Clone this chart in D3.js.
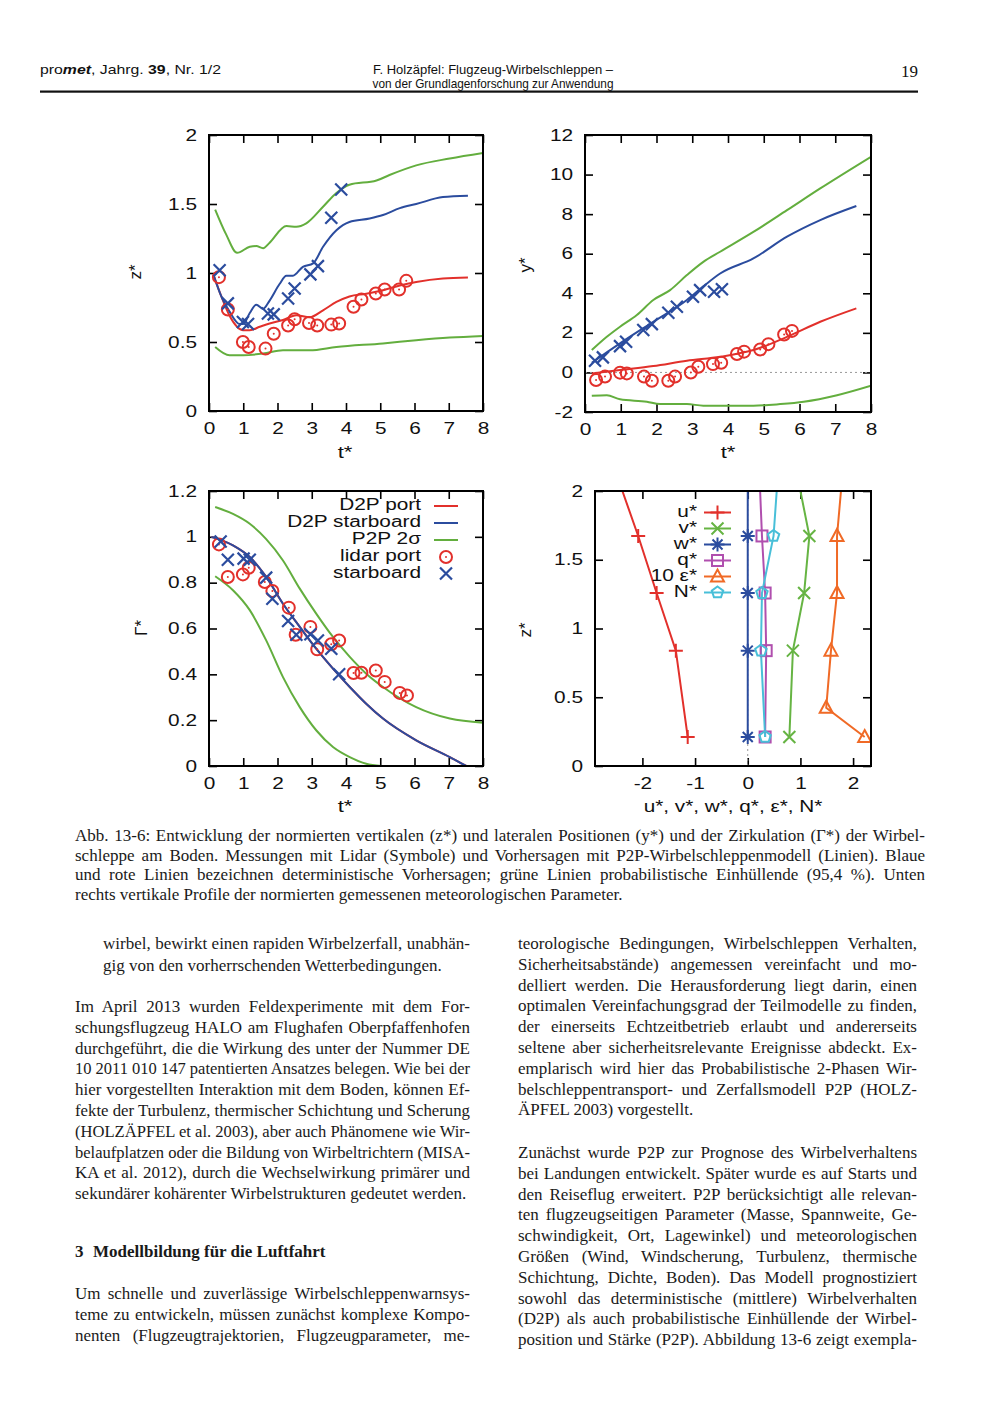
<!DOCTYPE html>
<html><head><meta charset="utf-8">
<script src="https://cdn.jsdelivr.net/npm/d3@7"></script>
<style>body{margin:0;background:#fff}svg{display:block}</style>
</head><body>
<svg id="page" width="1000" height="1416"></svg>
<script>
// ---------- DATA ----------
// Panel 1: z* vs t*
const zGreenUpT = [0.18,0.5,0.82,1.19,1.38,1.58,1.77,2.26,2.55,2.84,3.33,3.72,4.1,4.89,5.27,6.05,7.03,8.0];
const zGreenUpV = [1.46,1.28,1.146,1.19,1.195,1.18,1.22,1.34,1.335,1.36,1.48,1.58,1.64,1.67,1.71,1.78,1.83,1.87];
const zBlueT = [0.14,0.36,0.6,0.9,1.0,1.19,1.38,1.58,1.77,2.06,2.26,2.45,2.74,3.04,3.33,3.72,4.1,4.69,5.08,5.57,6.05,6.83,7.56];
const zBlueV = [0.98,0.83,0.72,0.63,0.63,0.71,0.77,0.74,0.80,0.92,0.98,0.98,1.045,1.07,1.19,1.31,1.37,1.395,1.42,1.47,1.50,1.55,1.56];
const zRedT = [0.14,0.36,0.6,1.0,1.19,1.48,1.77,2.16,2.55,2.94,3.33,3.72,4.1,4.59,5.08,5.57,6.05,6.83,7.56];
const zRedV = [0.98,0.83,0.69,0.585,0.585,0.61,0.634,0.66,0.694,0.68,0.73,0.79,0.83,0.85,0.875,0.91,0.935,0.96,0.967];
const zGreenLowT = [0.18,0.6,1.0,1.58,2.16,2.94,3.72,5.08,6.05,7.03,8.0];
const zGreenLowV = [0.464,0.404,0.404,0.416,0.44,0.44,0.464,0.49,0.513,0.532,0.544];
const zStarT = [0.31,0.55,0.99,1.14,1.72,1.89,2.31,2.5,2.96,3.18,3.57,3.86];
const zStarV = [1.02,0.78,0.645,0.63,0.706,0.70,0.815,0.888,0.99,1.05,1.40,1.605];
const zPortT = [0.29,0.55,0.99,1.16,1.65,1.89,2.31,2.5,2.92,3.16,3.57,3.8,4.22,4.45,4.87,5.13,5.55,5.76];
const zPortV = [0.97,0.735,0.50,0.464,0.452,0.56,0.62,0.665,0.638,0.62,0.626,0.634,0.755,0.808,0.851,0.88,0.88,0.943];

// Panel 2: y* vs t*
const yGreenUpT = [0.19,0.61,0.98,1.45,1.91,2.38,2.85,3.31,3.78,4.71,5.65,6.58,8.0];
const yGreenUpV = [1.13,1.80,2.31,2.9,3.66,4.16,4.92,5.59,6.1,7.1,8.2,9.3,10.9];
const yBlueT = [0.19,0.98,1.91,2.85,3.31,3.78,4.71,5.65,6.58,7.59];
const yBlueV = [0.49,1.47,2.56,3.66,4.35,5.0,5.76,6.86,7.70,8.41];
const yRedT = [0.19,0.98,1.91,2.85,3.78,4.71,5.65,6.58,7.59];
const yRedV = [-0.05,0.12,0.32,0.59,0.79,1.13,1.8,2.56,3.24];
const yGreenLowT = [0.19,0.61,0.98,1.73,2.1,2.85,3.31,4.71,5.46,6.12,7.05,8.0];
const yGreenLowV = [-1.18,-1.15,-1.36,-1.48,-1.6,-1.6,-1.68,-1.68,-1.6,-1.48,-1.15,-0.67];
const yStarT = [0.28,0.5,0.98,1.15,1.63,1.87,2.33,2.57,3.02,3.22,3.61,3.83];
const yStarV = [0.59,0.76,1.33,1.55,2.14,2.44,3.02,3.32,3.82,4.16,4.08,4.2];
const yPortT = [0.31,0.56,0.98,1.17,1.65,1.87,2.33,2.52,2.96,3.17,3.58,3.81,4.25,4.45,4.9,5.13,5.57,5.79];
const yPortV = [-0.38,-0.21,-0.01,-0.05,-0.21,-0.42,-0.42,-0.21,0.0,0.29,0.42,0.49,0.93,1.05,1.16,1.43,1.92,2.1];

// Panel 3: Gamma* vs t*
const gGreenUpT = [0.18,0.7,1.19,1.67,2.16,2.65,3.13,3.62,4.11,4.59,5.08,6.05,7.03,8.0];
const gGreenUpV = [1.13,1.10,1.057,0.99,0.897,0.774,0.665,0.563,0.476,0.403,0.345,0.257,0.207,0.189];
const gRedT = [0.07,0.7,1.19,1.67,2.16,2.65,3.13,3.62,4.11,4.59,5.08,6.05,7.03,7.51];
const gRedV = [1.0,0.963,0.912,0.825,0.708,0.607,0.512,0.425,0.345,0.272,0.207,0.112,0.039,0];
const gBlueT = [0.07,0.7,1.19,1.67,2.16,2.65,3.13,3.62,4.11,4.59,5.08,6.05,7.03,7.51];
const gBlueV = [1.0,0.963,0.912,0.825,0.708,0.607,0.512,0.425,0.345,0.272,0.207,0.112,0.039,0];
const gGreenLowT = [0.18,0.7,1.19,1.67,2.16,2.65,3.13,3.62,4.11,4.59,5.03];
const gGreenLowV = [0.828,0.767,0.68,0.548,0.388,0.257,0.156,0.083,0.039,0.01,0];
const gStarT = [0.34,0.55,1.01,1.19,1.67,1.85,2.31,2.55,2.96,3.18,3.57,3.8];
const gStarV = [0.98,0.90,0.905,0.90,0.822,0.73,0.633,0.573,0.575,0.548,0.512,0.40];
const gPortT = [0.29,0.55,0.99,1.16,1.63,1.85,2.33,2.53,2.96,3.16,3.57,3.8,4.22,4.45,4.87,5.13,5.57,5.78];
const gPortV = [0.967,0.825,0.836,0.865,0.803,0.764,0.691,0.573,0.607,0.509,0.531,0.548,0.406,0.407,0.417,0.367,0.319,0.308];
const legend3Labels = ["D2P port","D2P starboard","P2P 2σ","lidar port","starboard"];

// Panel 4: vertical profiles (z* levels)
const uZ = [0.211,0.839,1.258,1.673,2.0];
const uV = [-1.14,-1.365,-1.73,-2.08,-2.38];
const vZ = [0.211,0.839,1.258,1.673,2.0];
const vV = [0.79,0.857,1.07,1.17,1.0];
const wZ = [0.211,0.839,1.258,1.673,2.0];
const wV = [0,0,0,0,0];
const qZ = [0.211,0.839,1.258,1.673,2.0];
const qV = [0.33,0.35,0.33,0.27,0.235];
const eZ = [0.211,0.424,0.839,1.258,1.673,2.0];
const eV = [2.22,1.49,1.58,1.695,1.695,1.77];
const nZ = [0.211,0.839,1.258,1.673,2.0];
const nV = [0.33,0.25,0.27,0.49,0.55];
const legend4Labels = ["u*","v*","w*","q*","10 ε*","N*"];

// Tick labels
const tTicks = [0,1,2,3,4,5,6,7,8];
const zTicks = [0,0.5,1,1.5,2];
const yTicks = [-2,0,2,4,6,8,10,12];
const gTicks = [0,0.2,0.4,0.6,0.8,1,1.2];
const pTicks = [-2,-1,0,1,2];

// Text
const headerLeft = [["pro",""],["met","bi"],[", Jahrg. ",""],["39","b"],[", Nr. 1/2",""]];
const headerCenter = ["F. Holzäpfel: Flugzeug-Wirbelschleppen –","von der Grundlagenforschung zur Anwendung"];
const pageNumber = "19";
const captionLines = [
 "Abb. 13-6: Entwicklung der normierten vertikalen (z*) und lateralen Positionen (y*) und der Zirkulation (Γ*) der Wirbel-",
 "schleppe am Boden. Messungen mit Lidar (Symbole) und Vorhersagen mit P2P-Wirbelschleppenmodell (Linien). Blaue",
 "und rote Linien bezeichnen deterministische Vorhersagen; grüne Linien probabilistische Einhüllende (95,4 %). Unten",
 "rechts vertikale Profile der normierten gemessenen meteorologischen Parameter."];
const leftP1 = ["wirbel, bewirkt einen rapiden Wirbelzerfall, unabhän-","gig von den vorherrschenden Wetterbedingungen."];
const leftP2 = [
 "Im April 2013 wurden Feldexperimente mit dem For-",
 "schungsflugzeug HALO am Flughafen Oberpfaffenhofen",
 "durchgeführt, die die Wirkung des unter der Nummer DE",
 "10 2011 010 147 patentierten Ansatzes belegen. Wie bei der",
 "hier vorgestellten Interaktion mit dem Boden, können Ef-",
 "fekte der Turbulenz, thermischer Schichtung und Scherung",
 "(HOLZÄPFEL et al. 2003), aber auch Phänomene wie Wir-",
 "belaufplatzen oder die Bildung von Wirbeltrichtern (MISA-",
 "KA et al. 2012), durch die Wechselwirkung primärer und",
 "sekundärer kohärenter Wirbelstrukturen gedeutet werden."];
const headingNum = "3";
const headingText = "Modellbildung für die Luftfahrt";
const leftP3 = [
 "Um schnelle und zuverlässige Wirbelschleppenwarnsys-",
 "teme zu entwickeln, müssen zunächst komplexe Kompo-",
 "nenten (Flugzeugtrajektorien, Flugzeugparameter, me-"];
const rightP1 = [
 "teorologische Bedingungen, Wirbelschleppen Verhalten,",
 "Sicherheitsabstände) angemessen vereinfacht und mo-",
 "delliert werden. Die Herausforderung liegt darin, einen",
 "optimalen Vereinfachungsgrad der Teilmodelle zu finden,",
 "der einerseits Echtzeitbetrieb erlaubt und andererseits",
 "seltene aber sicherheitsrelevante Ereignisse abdeckt. Ex-",
 "emplarisch wird hier das Probabilistische 2-Phasen Wir-",
 "belschleppentransport- und Zerfallsmodell P2P (HOLZ-",
 "ÄPFEL 2003) vorgestellt."];
const rightP2 = [
 "Zunächst wurde P2P zur Prognose des Wirbelverhaltens",
 "bei Landungen entwickelt. Später wurde es auf Starts und",
 "den Reiseflug erweitert. P2P berücksichtigt alle relevan-",
 "ten flugzeugseitigen Parameter (Masse, Spannweite, Ge-",
 "schwindigkeit, Ort, Lagewinkel) und meteorologischen",
 "Größen (Wind, Windscherung, Turbulenz, thermische",
 "Schichtung, Dichte, Boden). Das Modell prognostiziert",
 "sowohl das deterministische (mittlere) Wirbelverhalten",
 "(D2P) als auch probabilistische Einhüllende der Wirbel-",
 "position und Stärke (P2P). Abbildung 13-6 zeigt exempla-"];

// ---------- DRAWING ----------
const svg = d3.select("#page");
svg.append("rect").attr("width",1000).attr("height",1416).attr("fill","#fff");
const SANS = "'Liberation Sans', Arial, Helvetica, sans-serif";
const SERIF = "'Liberation Serif', 'Times New Roman', serif";
const COL = {red:"#e2302b", blue:"#2b4c9e", green:"#63ae3e", purple:"#b04fae", orange:"#f06a26", cyan:"#48bfd8", vgreen:"#66b443"};
const STRETCH = 1.3;
const defs = svg.append("defs");

function zip(a,b){ return a.map((v,i)=>[v,b[i]]); }
function stretch(sel,f){
  sel.each(function(){
    const L = this.getComputedTextLength();
    if(L>0) d3.select(this).attr("textLength",(L*f).toFixed(2)).attr("lengthAdjust","spacingAndGlyphs");
  });
}
function fitWidth(sel,w){ sel.attr("textLength",w).attr("lengthAdjust","spacingAndGlyphs"); }

function makePanel(p){
  const x = d3.scaleLinear().domain(p.xd).range([p.l,p.r]);
  const y = d3.scaleLinear().domain(p.yd).range([p.b,p.t]);
  const g = svg.append("g");
  defs.append("clipPath").attr("id","clip"+p.id).append("rect")
    .attr("x",p.l).attr("y",p.t).attr("width",p.r-p.l).attr("height",p.b-p.t);
  const style = (a)=>{
    a.select(".domain").remove();
    a.selectAll("line").attr("stroke","#000").attr("stroke-width",1.6);
    a.selectAll("text").attr("font-family",SANS).attr("font-size",16).attr("fill","#111");
  };
  g.append("g").attr("transform",`translate(0,${p.b})`)
    .call(d3.axisBottom(x).tickValues(p.xt).tickFormat(d=>String(d)).tickSizeInner(-8).tickSizeOuter(0).tickPadding(12)).call(style);
  g.append("g").attr("transform",`translate(0,${p.t})`)
    .call(d3.axisTop(x).tickValues(p.xt).tickFormat("").tickSizeInner(-8).tickSizeOuter(0)).call(style);
  g.append("g").attr("transform",`translate(${p.l},0)`)
    .call(d3.axisLeft(y).tickValues(p.yt).tickFormat(d=>String(d)).tickSizeInner(-8).tickSizeOuter(0).tickPadding(12)).call(style);
  g.append("g").attr("transform",`translate(${p.r},0)`)
    .call(d3.axisRight(y).tickValues(p.yt).tickFormat("").tickSizeInner(-8).tickSizeOuter(0)).call(style);
  stretch(g.selectAll("text"),STRETCH);
  const plot = svg.append("g").attr("clip-path",`url(#clip${p.id})`);
  const xl = svg.append("text").attr("x",p.xlab[0]).attr("y",p.xlab[1]).attr("text-anchor","middle")
    .attr("font-family",SANS).attr("font-size",17).attr("fill","#111").text(p.xlabel);
  stretch(xl,p.xstretch||STRETCH);
  svg.append("text").attr("transform",`translate(${p.ylab[0]},${p.ylab[1]}) rotate(-90)`).attr("text-anchor","middle")
    .attr("dominant-baseline","middle").attr("font-family",SANS).attr("font-size",17).attr("fill","#111").text(p.ylabel);
  const frame = ()=> svg.append("rect").attr("x",p.l).attr("y",p.t).attr("width",p.r-p.l).attr("height",p.b-p.t)
    .attr("fill","none").attr("stroke","#000").attr("stroke-width",2);
  return {x,y,plot,frame};
}

function curve(P, tx, vy, color, w){
  const line = d3.line().x(d=>P.x(d[0])).y(d=>P.y(d[1])).curve(d3.curveMonotoneX);
  P.plot.append("path").attr("d",line(zip(tx,vy))).attr("fill","none").attr("stroke",color).attr("stroke-width",w||2);
}
const XS = 6;
function crosses(P, tx, vy, color){
  P.plot.selectAll(null).data(zip(tx,vy)).enter().append("path")
    .attr("transform",d=>`translate(${P.x(d[0])},${P.y(d[1])})`)
    .attr("d",`M${-XS},${-XS}L${XS},${XS}M${-XS},${XS}L${XS},${-XS}`).attr("stroke",color).attr("stroke-width",2.2).attr("fill","none");
}
function circleMark(g,color){
  g.append("circle").attr("r",6).attr("fill","none").attr("stroke",color).attr("stroke-width",2);
  g.append("circle").attr("r",1).attr("fill",color);
}
function circles(P, tx, vy, color){
  P.plot.selectAll(null).data(zip(tx,vy)).enter().append("g")
    .attr("transform",d=>`translate(${P.x(d[0])},${P.y(d[1])})`).each(function(){circleMark(d3.select(this),color);});
}
function legendText(x,y,s){
  const t = svg.append("text").attr("x",x).attr("y",y).attr("dominant-baseline","middle").attr("text-anchor","end")
    .attr("font-family",SANS).attr("font-size",16).attr("fill","#111").text(s);
  stretch(t,STRETCH);
}

// ---- Panel 1 ----
const P1 = makePanel({id:1,l:209,r:483,t:135,b:411,xd:[0,8],yd:[0,2],xt:tTicks,yt:zTicks,
  xlab:[345,458],ylab:[137,272],xlabel:"t*",ylabel:"z*"});
curve(P1,zGreenUpT,zGreenUpV,COL.green);
curve(P1,zGreenLowT,zGreenLowV,COL.green);
curve(P1,zRedT,zRedV,COL.red);
curve(P1,zBlueT,zBlueV,COL.blue);
circles(P1,zPortT,zPortV,COL.red);
crosses(P1,zStarT,zStarV,COL.blue);
P1.frame();

// ---- Panel 2 ----
const P2 = makePanel({id:2,l:585,r:871,t:135,b:412,xd:[0,8],yd:[-2,12],xt:tTicks,yt:yTicks,
  xlab:[728,458],ylab:[527,265],xlabel:"t*",ylabel:"y*"});
P2.plot.append("line").attr("x1",P2.x(0)).attr("x2",P2.x(8)).attr("y1",P2.y(0)).attr("y2",P2.y(0))
  .attr("stroke","#999").attr("stroke-width",1).attr("stroke-dasharray","2,3");
curve(P2,yGreenUpT,yGreenUpV,COL.green);
curve(P2,yGreenLowT,yGreenLowV,COL.green);
curve(P2,yRedT,yRedV,COL.red);
curve(P2,yBlueT,yBlueV,COL.blue);
circles(P2,yPortT,yPortV,COL.red);
crosses(P2,yStarT,yStarV,COL.blue);
P2.frame();

// ---- Panel 3 ----
const P3 = makePanel({id:3,l:209,r:483,t:491,b:766,xd:[0,8],yd:[0,1.2],xt:tTicks,yt:gTicks,
  xlab:[345,812],ylab:[143,628],xlabel:"t*",ylabel:"Γ*"});
curve(P3,gGreenUpT,gGreenUpV,COL.green);
curve(P3,gGreenLowT,gGreenLowV,COL.green);
curve(P3,gRedT,gRedV,COL.red);
curve(P3,gBlueT,gBlueV,COL.blue);
circles(P3,gPortT,gPortV,COL.red);
crosses(P3,gStarT,gStarV,COL.blue);
{
  const rows = [506,523,540,557,573.5];
  const cols = [COL.red,COL.blue,COL.green,COL.red,COL.blue];
  rows.forEach((ry,i)=>{
    legendText(421,ry,legend3Labels[i]);
    if(i<3){
      svg.append("line").attr("x1",434).attr("x2",458).attr("y1",ry).attr("y2",ry).attr("stroke",cols[i]).attr("stroke-width",2);
    } else if(i===3){
      circleMark(svg.append("g").attr("transform",`translate(446,${ry})`),cols[i]);
    } else {
      svg.append("path").attr("transform",`translate(446,${ry})`).attr("d",`M${-XS},${-XS}L${XS},${XS}M${-XS},${XS}L${XS},${-XS}`)
        .attr("stroke",cols[i]).attr("stroke-width",2.2);
    }
  });
}
P3.frame();

// ---- Panel 4 ----
const P4 = makePanel({id:4,l:595,r:871,t:491,b:766,xd:[-2.9,2.34],yd:[0,2],xt:pTicks,yt:zTicks,
  xlab:[733,812],ylab:[527,630],xlabel:"u*, v*, w*, q*, ε*, N*",ylabel:"z*",xstretch:1.22});
P4.plot.append("line").attr("x1",P4.x(0)).attr("x2",P4.x(0)).attr("y1",P4.y(0)).attr("y2",P4.y(2))
  .attr("stroke","#999").attr("stroke-width",1).attr("stroke-dasharray","2,3");
const sym = {
  plus: g=>g.append("path").attr("d","M-7,0H7M0,-7V7"),
  x: g=>g.append("path").attr("d","M-6,-6L6,6M-6,6L6,-6"),
  star: g=>g.append("path").attr("d","M-7,0H7M0,-7V7M-5,-5L5,5M-5,5L5,-5"),
  square: g=>g.append("rect").attr("x",-5.5).attr("y",-5.5).attr("width",11).attr("height",11),
  tri: g=>g.append("path").attr("d","M0,-7L6.5,5L-6.5,5Z"),
  pent: g=>g.append("path").attr("d", d3.range(5).map(i=>{const a=-Math.PI/2+i*2*Math.PI/5;return (i?"L":"M")+(6*Math.cos(a)).toFixed(2)+","+(6*Math.sin(a)).toFixed(2);}).join("")+"Z")
};
const series4 = [
  {z:uZ,v:uV,c:COL.red,s:"plus"},
  {z:vZ,v:vV,c:COL.vgreen,s:"x"},
  {z:wZ,v:wV,c:COL.blue,s:"star"},
  {z:qZ,v:qV,c:COL.purple,s:"square"},
  {z:eZ,v:eV,c:COL.orange,s:"tri"},
  {z:nZ,v:nV,c:COL.cyan,s:"pent"}];
series4.forEach(S=>{
  const line = d3.line().x(d=>P4.x(d[1])).y(d=>P4.y(d[0]));
  P4.plot.append("path").attr("d",line(zip(S.z,S.v))).attr("fill","none").attr("stroke",S.c).attr("stroke-width",2);
});
series4.forEach(S=>{
  zip(S.z,S.v).filter(d=>d[0]<1.99).forEach(d=>{
    const g = P4.plot.append("g").attr("transform",`translate(${P4.x(d[1])},${P4.y(d[0])})`)
      .attr("fill","none").attr("stroke",S.c).attr("stroke-width",2);
    sym[S.s](g);
  });
});
{
  const rows = [512.5,528.5,544.5,560.5,576.5,592.5];
  series4.forEach((S,i)=>{
    const ry = rows[i];
    legendText(697,ry,legend4Labels[i]);
    svg.append("line").attr("x1",704).attr("x2",731).attr("y1",ry).attr("y2",ry).attr("stroke",S.c).attr("stroke-width",2);
    const g = svg.append("g").attr("transform",`translate(717.5,${ry})`).attr("fill","none").attr("stroke",S.c).attr("stroke-width",2);
    sym[S.s](g);
  });
}
P4.frame();

// ---------- TEXT ----------
{
  const t = svg.append("text").attr("x",40).attr("y",74).attr("font-family",SANS).attr("font-size",13).attr("fill","#111");
  headerLeft.forEach(([s,f])=>{
    const ts = t.append("tspan").text(s);
    if(f.includes("b")) ts.attr("font-weight","bold");
    if(f.includes("i")) ts.attr("font-style","italic");
  });
  fitWidth(t,181);
  headerCenter.forEach((s,i)=>{
    const h = svg.append("text").attr("x",493).attr("y",74+i*13.5).attr("text-anchor","middle")
      .attr("font-family",SANS).attr("font-size",13).attr("fill","#111").text(s);
    fitWidth(h,[240,241][i]);
  });
  svg.append("text").attr("x",918).attr("y",77).attr("text-anchor","end").attr("font-family",SERIF).attr("font-size",17).attr("fill","#111").text(pageNumber);
  svg.append("rect").attr("x",40).attr("y",90.5).attr("width",878).attr("height",2.2).attr("fill","#111");
}

function textLine(x,y,width,str,justify,size,weight){
  const t = svg.append("text").attr("x",x).attr("y",y).attr("font-family",SERIF).attr("font-size",size)
    .attr("fill","#1a1a1a").attr("xml:space","preserve").text(str);
  if(weight) t.attr("font-weight",weight);
  const nat = t.node().getComputedTextLength();
  const spaces = (str.match(/ /g)||[]).length;
  if(nat>width){
    t.attr("textLength",width).attr("lengthAdjust","spacingAndGlyphs");
  } else if(justify && spaces>0){
    t.attr("word-spacing",((width-nat)/spaces).toFixed(3));
  }
  return t;
}
function para(lines,x,y0,width,step,size,lastJust){
  lines.forEach((s,i)=>textLine(x,y0+i*step,width,s,(i<lines.length-1)||lastJust,size));
}
para(captionLines,75,841,850,19.5,17,false);
const BS = 17, LH = 20.8;
para(leftP1,103,949,367,21.6,BS,false);
para(leftP2,75,1012,395,LH,BS,false);
textLine(75,1257,20,headingNum,false,BS,"bold");
textLine(93,1257,240,headingText,false,BS,"bold");
para(leftP3,75,1299,395,LH,BS,true);
para(rightP1,518,949,399,LH,BS,false);
para(rightP2,518,1158,399,LH,BS,true);
</script>
</body></html>
